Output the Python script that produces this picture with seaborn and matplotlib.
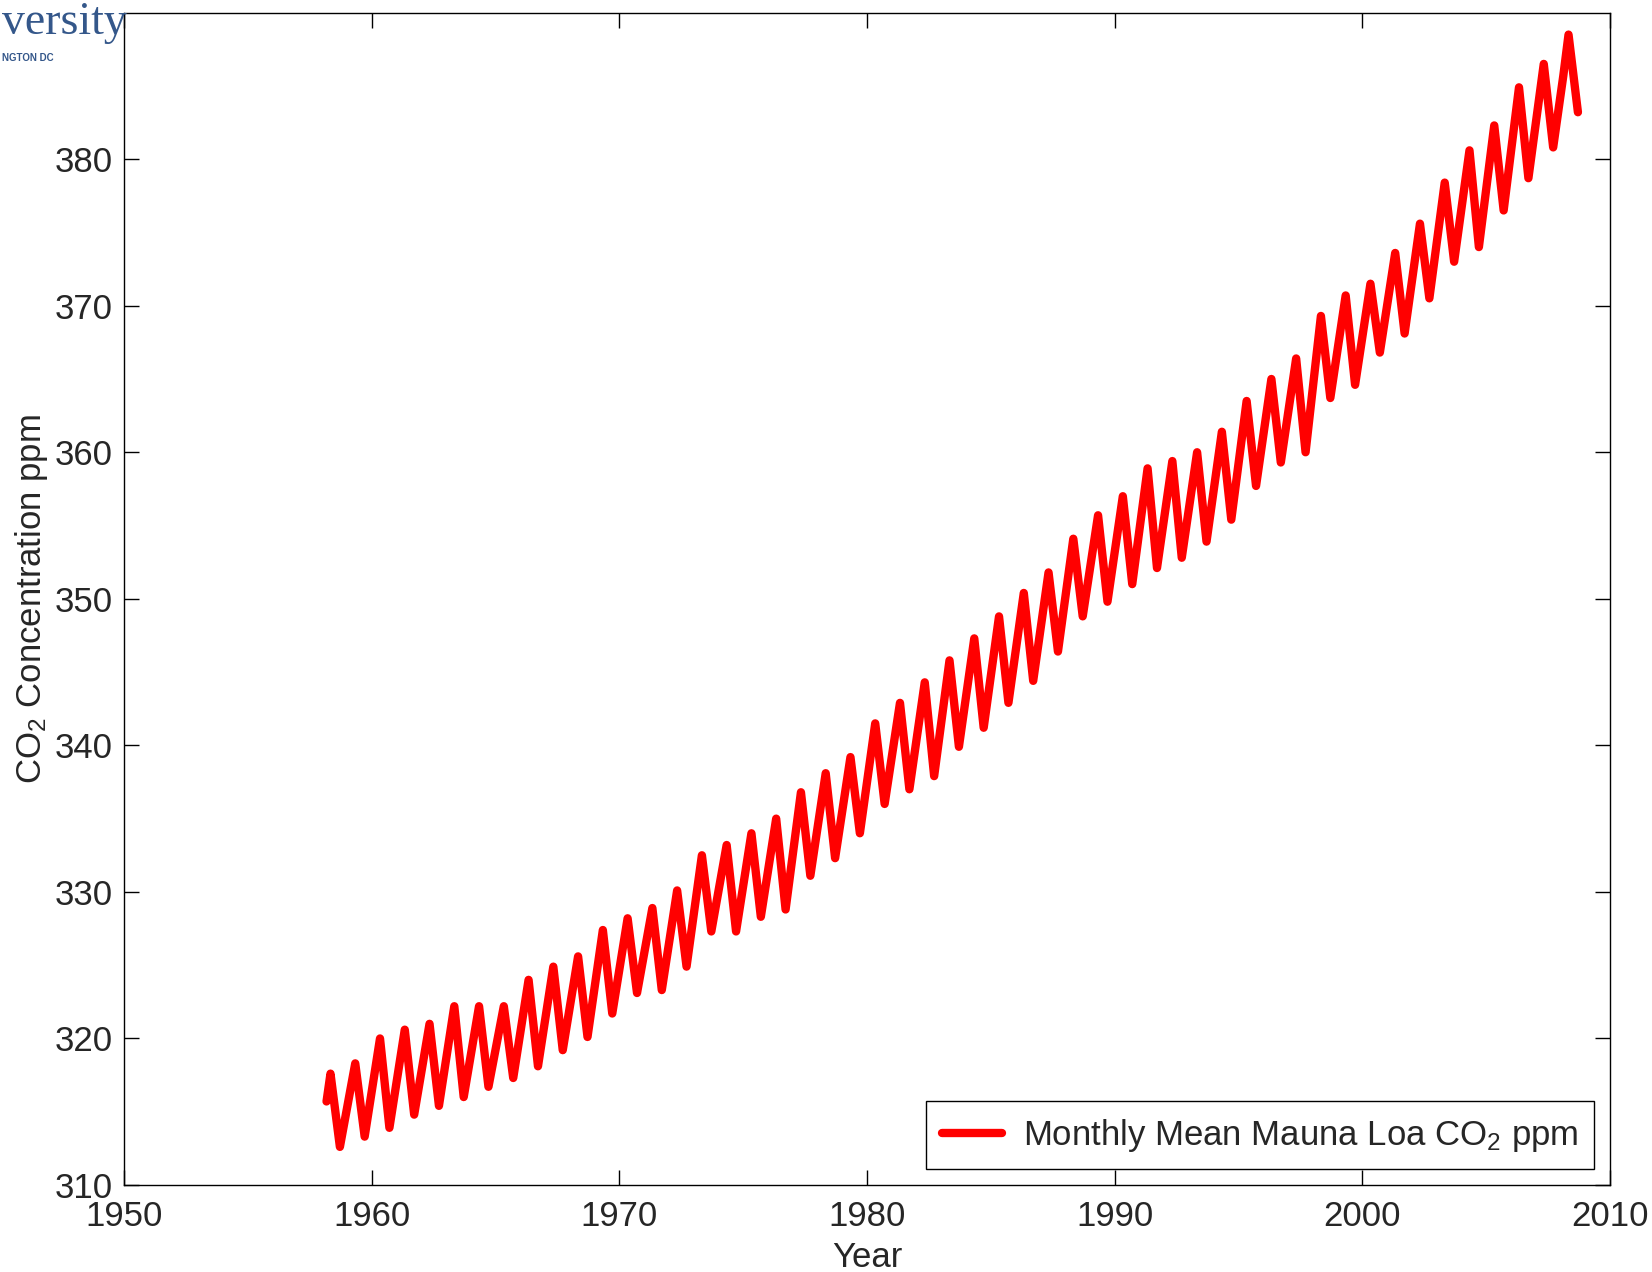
import numpy as np
import pandas as pd
import matplotlib
matplotlib.use("Agg")
import matplotlib.pyplot as plt
import seaborn as sns

years = list(range(1958, 2009))
peak_ppm = [317.6, 318.3, 320.0, 320.6, 321.0, 322.2, 322.2, 322.2, 324.0, 324.9,
            325.6, 327.4, 328.2, 328.9, 330.1, 332.5, 333.2, 334.0, 335.0, 336.8,
            338.1, 339.2, 341.5, 342.9, 344.3, 345.8, 347.3, 348.8, 350.4, 351.8,
            354.1, 355.7, 357.0, 358.9, 359.4, 360.0, 361.4, 363.5, 365.0, 366.4,
            369.3, 370.7, 371.5, 373.6, 375.6, 378.4, 380.6, 382.3, 384.9, 386.5,
            388.5]
trough_ppm = [312.6, 313.3, 313.9, 314.8, 315.4, 316.0, 316.7, 317.3, 318.1, 319.2,
              320.1, 321.7, 323.1, 323.3, 324.9, 327.3, 327.3, 328.3, 328.8, 331.1,
              332.3, 334.0, 336.0, 337.0, 337.9, 339.9, 341.2, 342.9, 344.4, 346.4,
              348.8, 349.8, 351.0, 352.1, 352.8, 353.9, 355.4, 357.7, 359.3, 360.0,
              363.7, 364.6, 366.8, 368.1, 370.5, 373.0, 374.0, 376.5, 378.7, 380.8]
peak_offset = 0.33     # ~May
trough_offset = 0.71   # ~Sep/Oct
first_point = (1958.17, 315.7)
winter_2008 = (2008.12, 385.7)
last_point = (2008.71, 383.2)

xs = [first_point[0]]
ys = [first_point[1]]
for i, yr in enumerate(years):
    if yr == 2008:
        xs.append(winter_2008[0])
        ys.append(winter_2008[1])
    xs.append(yr + peak_offset)
    ys.append(peak_ppm[i])
    if i < len(trough_ppm):
        xs.append(yr + trough_offset)
        ys.append(trough_ppm[i])
xs.append(last_point[0])
ys.append(last_point[1])
df = pd.DataFrame({"year": xs, "ppm": ys})

sns.set_style("ticks")
plt.rcParams['font.family'] = ['Liberation Sans', 'DejaVu Sans']
plt.rcParams['mathtext.fontset'] = 'custom'
plt.rcParams['mathtext.rm'] = 'Liberation Sans'
plt.rcParams['mathtext.default'] = 'regular'

fig = plt.figure(figsize=(16.52, 12.72), dpi=100)
ax = fig.add_axes([0.0752, 0.0684, 0.8993, 0.9217])

sns.lineplot(data=df, x="year", y="ppm", color="#ff0000", linewidth=6,
             sort=False, estimator=None, ax=ax,
             label="Monthly Mean Mauna Loa CO$_2$ ppm")

ax.set_xlim(1950, 2010)
ax.set_ylim(310, 390)
ax.set_xticks(range(1950, 2011, 10))
ax.set_yticks(range(310, 381, 10))
ax.tick_params(direction="in", length=11, width=1, color="black",
               labelsize=25, top=True, right=True)
ax.tick_params(axis="x", pad=10.5)
ax.tick_params(axis="y", pad=8.5)
for s in ax.spines.values():
    s.set_visible(True)
    s.set_color("black")
    s.set_linewidth(1)

ax.set_xlabel("Year", fontsize=25, labelpad=6)
ax.set_ylabel("CO$_2$ Concentration ppm", fontsize=25, labelpad=3)

leg = ax.legend(loc="lower right", fontsize=25, frameon=True, fancybox=False,
                framealpha=1, edgecolor="black", borderaxespad=0.45,
                handlelength=1.75, handletextpad=0.6, borderpad=0.45)
leg.get_frame().set_linewidth(1)

# bits of the slide logo in the corner
fig.text(0.001, 0.999, "versity", family="Liberation Serif", color="#34578a",
         fontsize=33, va="top", ha="left")
fig.text(0.001, 0.958, "NGTON DC", color="#34578a", fontsize=7,
         fontweight="bold", va="top", ha="left")

fig.savefig("out.png", dpi=100)
